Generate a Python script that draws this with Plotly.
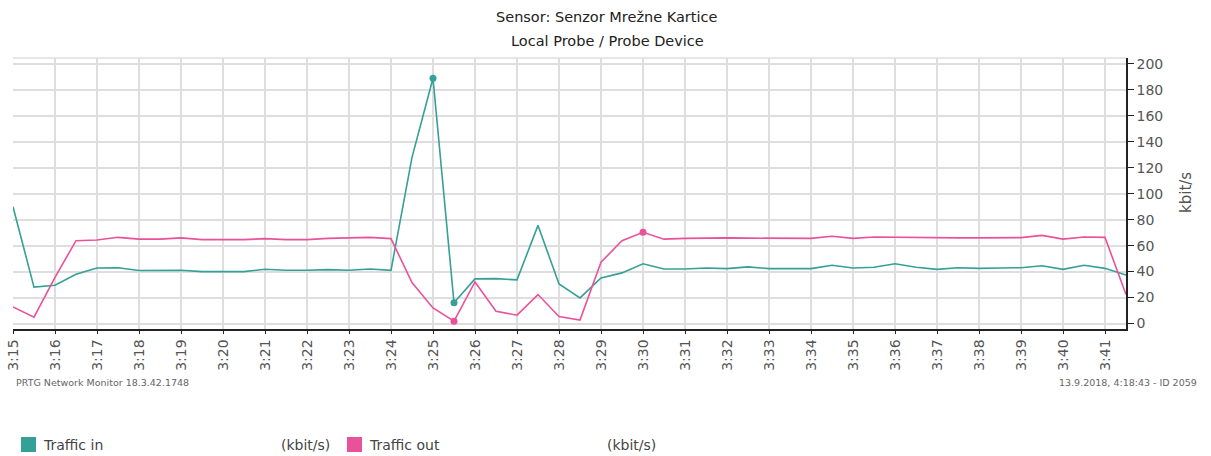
import numpy as np
import pandas as pd
import plotly.graph_objects as go

# ---- data ----
times = pd.date_range("2018-09-13 03:15:00", "2018-09-13 03:41:30", freq="30s")
traffic_in = [90, 28, 29.5, 38, 42.8, 43, 40.8, 41, 41, 40, 40, 40, 41.8, 41, 41, 41.5, 41, 42, 41,
              128, 189, 16, 34.4, 34.6, 33.6, 75.6, 30.5, 19.7, 35.1, 39, 46, 42, 42, 42.8, 42.3, 43.6,
              42.3, 42.3, 42.3, 44.9, 42.8, 43.3, 46, 43.3, 41.7, 43, 42.5, 42.8, 43, 44.5, 41.7, 44.9,
              42.5, 37.4]
traffic_out = [12.8, 4.9, 35.6, 63.8, 64.3, 66.4, 65, 65, 66, 64.6, 64.6, 64.6, 65.4, 64.6, 64.6, 65.6,
               66, 66.4, 65.4, 31.5, 12, 1.8, 32, 9.5, 6.4, 22.3, 5.4, 2.6, 47.2, 63.8, 70.3, 65, 65.6,
               66, 66, 65.8, 65.8, 65.4, 65.6, 67.2, 65.6, 66.7, 66.4, 66.2, 66, 66, 66, 66.2, 66.2,
               67.9, 65, 66.7, 66.4, 22.3]
yticks = [0, 20, 40, 60, 80, 100, 120, 140, 160, 180, 200]
series_names = ["Traffic in", "Traffic out"]
unit = "kbit/s"
title_lines = ["Sensor: Senzor Mrežne Kartice", "Local Probe / Probe Device"]
footer_left = "PRTG Network Monitor 18.3.42.1748"
footer_right = "13.9.2018, 4:18:43 - ID 2059"

TEAL = "#34a096"
PINK = "#e9529a"
FONT = "DejaVu Sans"

W, H = 1211, 456
L, R, T, B = 13, 1126, 58, 329


def px(x):
    return (x - L) / (R - L)


def py(y):
    return (B - y) / (B - T)


fig = go.Figure()
for vals, col in [(traffic_in, TEAL), (traffic_out, PINK)]:
    arr = np.array(vals)
    fig.add_trace(go.Scatter(x=times, y=arr, mode="lines",
                             line=dict(color=col, width=1.6), showlegend=False,
                             hoverinfo="x+y"))
    idx = [int(arr.argmax()), int(arr.argmin())]
    fig.add_trace(go.Scatter(x=times[idx], y=arr[idx], mode="markers",
                             marker=dict(color=col, size=7), showlegend=False))

fig.update_layout(
    width=W, height=H,
    margin=dict(l=L, r=W - R, t=T, b=H - B, autoexpand=False),
    paper_bgcolor="white", plot_bgcolor="white",
    font=dict(family=FONT, color="#444"),
    xaxis=dict(range=[times[0], times[-1]], type="date", automargin=False,
               dtick=60000, tick0=times[0], tickformat="%-H:%M", tickangle=-90,
               showgrid=True, gridcolor="#dedede", gridwidth=1.5,
               showline=True, linecolor="#222", linewidth=1.5,
               ticks="outside", ticklen=3, tickcolor="#222",
               tickfont=dict(family=FONT, size=14, color="#555"), zeroline=False),
    yaxis=dict(side="right", range=[-4.24, 204.6], tickvals=yticks, automargin=False,
               showgrid=True, gridcolor="#dedede", gridwidth=1.5,
               showline=True, linecolor="#222", linewidth=1.5,
               ticks="outside", ticklen=6, tickcolor="#222",
               tickfont=dict(family=FONT, size=14, color="#555"), zeroline=False),
    showlegend=False,
)

# top border
fig.add_shape(type="line", xref="paper", yref="paper", x0=0, x1=1, y0=1, y1=1,
              line=dict(color="#dedede", width=1.5))

# title
for line, yc in zip(title_lines, [17, 41]):
    fig.add_annotation(text=line, xref="paper", yref="paper", x=px(607), y=py(yc),
                       showarrow=False, xanchor="center", yanchor="middle",
                       font=dict(family=FONT, size=14.5, color="#222"))

# axis title
fig.add_annotation(text=unit, xref="paper", yref="paper", x=px(1186), y=py(193),
                   textangle=-90, showarrow=False, xanchor="center", yanchor="middle",
                   font=dict(family=FONT, size=15, color="#555"))
# footers
fig.add_annotation(text=footer_left, xref="paper", yref="paper",
                   x=px(14), y=py(382), showarrow=False, xanchor="left", yanchor="middle",
                   font=dict(family=FONT, size=9.5, color="#666"))
fig.add_annotation(text=footer_right, xref="paper", yref="paper",
                   x=px(1199), y=py(382), showarrow=False, xanchor="right", yanchor="middle",
                   font=dict(family=FONT, size=9.5, color="#666"))

# legend (manual)
leg = [(21, 41, 279, TEAL, series_names[0]), (347, 367, 605, PINK, series_names[1])]
for sx, tx, ux, col, name in leg:
    fig.add_shape(type="rect", xref="paper", yref="paper",
                  x0=px(sx), x1=px(sx + 15), y0=py(452), y1=py(437),
                  line=dict(width=0), fillcolor=col)
    fig.add_annotation(text=name, xref="paper", yref="paper", x=px(tx), y=py(445),
                       showarrow=False, xanchor="left", yanchor="middle",
                       font=dict(family=FONT, size=14, color="#444"))
    fig.add_annotation(text="(" + unit + ")", xref="paper", yref="paper", x=px(ux), y=py(445),
                       showarrow=False, xanchor="left", yanchor="middle",
                       font=dict(family=FONT, size=14, color="#444"))

fig.write_html("out.html", config={"displayModeBar": False},
               post_script="document.body.style.margin='0';document.body.style.overflow='hidden';")
